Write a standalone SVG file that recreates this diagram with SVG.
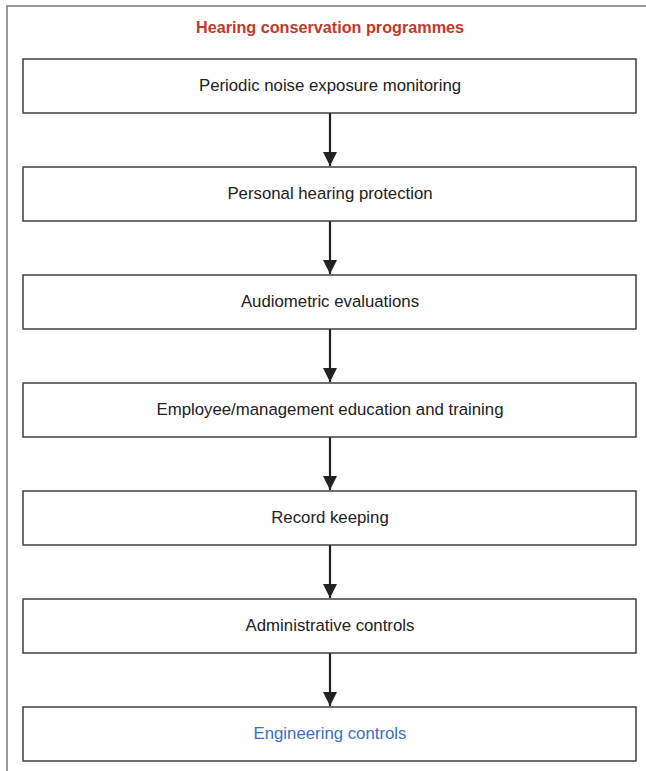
<svg xmlns="http://www.w3.org/2000/svg" width="646" height="771" viewBox="0 0 646 771">
<defs>
<style>
.frame{fill:none;stroke:#7a7a7a;stroke-width:1.5}
.box{fill:#fff;stroke:#333;stroke-width:1.4}
.t{font-family:"Liberation Sans",Arial,sans-serif;font-size:16.8px;fill:#222;text-anchor:middle}
.title{font-weight:bold;fill:#c0392b;font-size:16.2px}
.eng{fill:#3b70c0}
.conn{stroke:#222;stroke-width:2.2;fill:none}
</style>
<marker id="ah" viewBox="0 0 14 14" refX="14" refY="7" markerWidth="14" markerHeight="14" markerUnits="userSpaceOnUse" orient="auto">
<path d="M0,0 L14,7 L0,14 Z" fill="#222"/>
</marker>
</defs>
<rect x="0" y="0" width="646" height="771" fill="#fff"/>
<path class="frame" d="M7,771 V6 H646"/>
<text class="t title" x="330" y="33">Hearing conservation programmes</text>
<g id="connectors">
<line class="conn" x1="330" y1="113" x2="330" y2="166" marker-end="url(#ah)"/>
<line class="conn" x1="330" y1="221" x2="330" y2="274" marker-end="url(#ah)"/>
<line class="conn" x1="330" y1="329" x2="330" y2="382" marker-end="url(#ah)"/>
<line class="conn" x1="330" y1="437" x2="330" y2="490" marker-end="url(#ah)"/>
<line class="conn" x1="330" y1="545" x2="330" y2="598" marker-end="url(#ah)"/>
<line class="conn" x1="330" y1="653" x2="330" y2="706" marker-end="url(#ah)"/>
</g>
<g id="n1"><rect class="box" x="23" y="59" width="613" height="54"/><text class="t" x="330" y="91">Periodic noise exposure monitoring</text></g>
<g id="n2"><rect class="box" x="23" y="167" width="613" height="54"/><text class="t" x="330" y="199">Personal hearing protection</text></g>
<g id="n3"><rect class="box" x="23" y="275" width="613" height="54"/><text class="t" x="330" y="307">Audiometric evaluations</text></g>
<g id="n4"><rect class="box" x="23" y="383" width="613" height="54"/><text class="t" x="330" y="415">Employee/management education and training</text></g>
<g id="n5"><rect class="box" x="23" y="491" width="613" height="54"/><text class="t" x="330" y="523">Record keeping</text></g>
<g id="n6"><rect class="box" x="23" y="599" width="613" height="54"/><text class="t" x="330" y="631">Administrative controls</text></g>
<g id="n7"><rect class="box" x="23" y="707" width="613" height="54"/><text class="t eng" x="330" y="739">Engineering controls</text></g>
</svg>
